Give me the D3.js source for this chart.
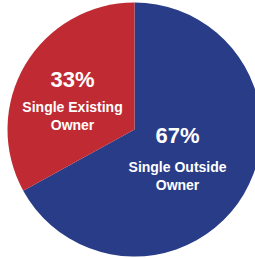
<html>
<head>
<meta charset="utf-8">
<title>Ownership pie</title>
<style>
  body { margin: 0; background: #fff; }
  svg { display: block; }
</style>
</head>
<body>
<script src="https://cdn.jsdelivr.net/npm/d3@7/dist/d3.min.js"></script>
<script>
var categories = ["Single Outside Owner", "Single Existing Owner"];
var values = [67, 33];
var pctLabels = ["67%", "33%"];
var nameLines = [["Single Outside", "Owner"], ["Single Existing", "Owner"]];
var colors = ["#283c87", "#bf2a33"];

var width = 255, height = 258;
var cx = 134.5, cy = 129.5, outerRadius = 127;

var svg = d3.select("body").append("svg")
  .attr("width", width)
  .attr("height", height);

var pie = d3.pie().sort(null).value(function(d){ return d; });
var piedata = pie(values);

var arc = d3.arc().innerRadius(0).outerRadius(outerRadius);

var g = svg.append("g").attr("transform", "translate(" + cx + "," + cy + ")");

g.selectAll("path")
  .data(piedata)
  .enter()
  .append("path")
  .attr("fill", function(d, i){ return colors[i]; })
  .attr("d", arc);

// label position: centroid on an inner ring (bigger slice sits closer in)
function labelPos(d, i){
  var r = i === 0 ? 50 : 72;
  return d3.arc().innerRadius(r).outerRadius(r).centroid(d);
}

var labels = g.selectAll("g.lab")
  .data(piedata)
  .enter()
  .append("g")
  .attr("class", "lab")
  .attr("transform", function(d, i){
    var p = labelPos(d, i);
    return "translate(" + p[0] + "," + p[1] + ")";
  })
  .attr("fill", "#fff")
  .attr("text-anchor", "middle")
  .style("font-family", "'Liberation Sans', Arial, sans-serif")
  .style("font-weight", "bold");

labels.append("text")
  .attr("y", function(d, i){ return i === 0 ? -12 : -6; })
  .style("font-size", "22px")
  .text(function(d, i){ return pctLabels[i]; });

labels.each(function(d, i){
  var sel = d3.select(this);
  var base = i === 0 ? 17 : 19;
  nameLines[i].forEach(function(line, k){
    sel.append("text")
      .attr("y", base + k * 18)
      .style("font-size", "14px")
      .text(line);
  });
});
</script>
</body>
</html>
